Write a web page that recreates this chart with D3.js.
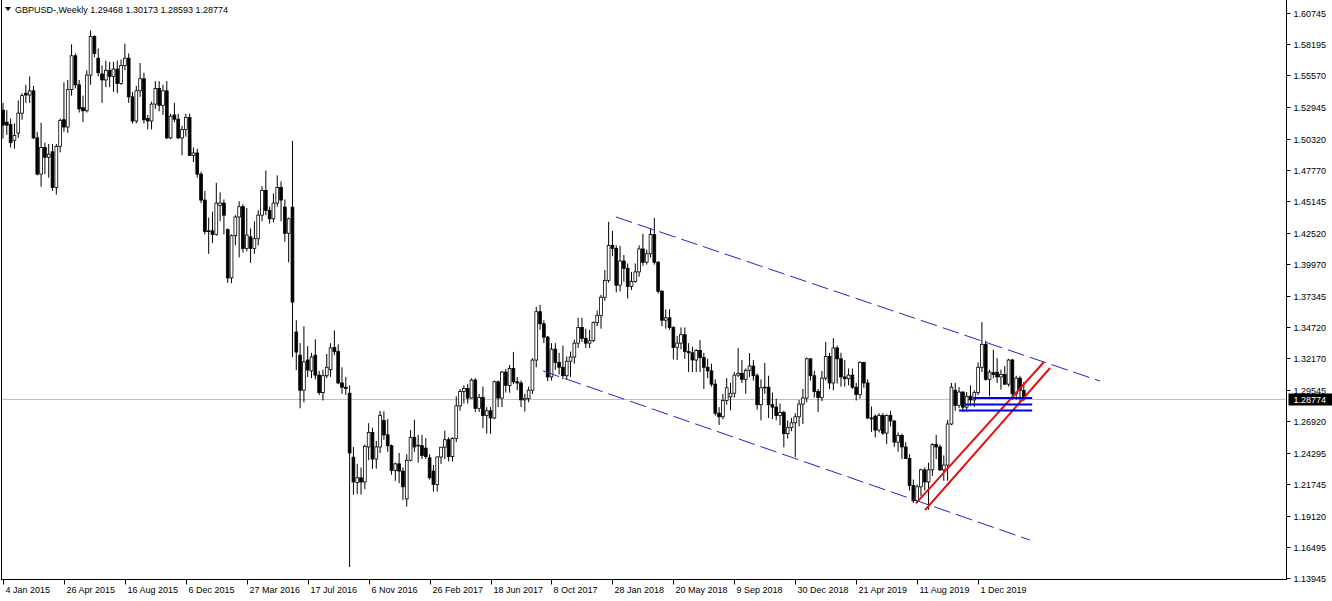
<!DOCTYPE html>
<html><head><meta charset="utf-8">
<script src="https://cdn.jsdelivr.net/npm/d3@7/dist/d3.min.js"></script>
<style>
body{margin:0;background:#fff}
svg{display:block}
text{font-family:"Liberation Sans",Arial,sans-serif;font-size:9px;fill:#000}
</style>
</head><body>
<svg id="chart" width="1332" height="601"></svg>
<script>
// ---- weekly OHLC, week of 4 Jan 2015 onward: [open, high, low, close] ----
const weeks2015 = [
[1.5270,1.5330,1.5035,1.5146],[1.5170,1.5270,1.5065,1.5146],[1.5150,1.5200,1.4960,1.5000],[1.5020,1.5160,1.4950,1.5060],
[1.5080,1.5350,1.5040,1.5245],[1.5245,1.5410,1.5190,1.5390],[1.5410,1.5480,1.5330,1.5395],[1.5395,1.5550,1.5330,1.5430],
[1.5430,1.5470,1.5030,1.5040],[1.5040,1.5090,1.4730,1.4740],[1.4740,1.5165,1.4635,1.4960],[1.4960,1.5000,1.4740,1.4880],
[1.4880,1.4990,1.4710,1.4905],[1.4925,1.4990,1.4600,1.4630],[1.4630,1.4990,1.4570,1.4970],[1.4970,1.5200,1.4920,1.5185],
[1.5190,1.5500,1.5090,1.5130],[1.5130,1.5520,1.5080,1.5440],[1.5440,1.5815,1.5390,1.5720],[1.5720,1.5740,1.5450,1.5480],
[1.5480,1.5520,1.5250,1.5280],[1.5290,1.5390,1.5170,1.5265],[1.5265,1.5600,1.5250,1.5560],[1.5560,1.5930,1.5480,1.5880],
[1.5880,1.5890,1.5710,1.5740],[1.5700,1.5780,1.5550,1.5580],[1.5570,1.5640,1.5330,1.5520],[1.5520,1.5680,1.5460,1.5600],
[1.5600,1.5670,1.5460,1.5550],[1.5550,1.5670,1.5420,1.5610],[1.5610,1.5680,1.5410,1.5490],[1.5490,1.5690,1.5480,1.5640],
[1.5640,1.5820,1.5600,1.5700],[1.5700,1.5740,1.5330,1.5380],[1.5380,1.5420,1.5160,1.5180],[1.5180,1.5470,1.5160,1.5430],
[1.5430,1.5660,1.5380,1.5530],[1.5530,1.5580,1.5160,1.5190],[1.5200,1.5230,1.5110,1.5180],[1.5180,1.5340,1.5110,1.5320],
[1.5320,1.5510,1.5280,1.5450],[1.5450,1.5510,1.5260,1.5310],[1.5310,1.5480,1.5230,1.5430],[1.5430,1.5510,1.5030,1.5040],
[1.5040,1.5240,1.5030,1.5220],[1.5230,1.5330,1.5170,1.5195],[1.5195,1.5240,1.5030,1.5040],[1.5040,1.5140,1.4895,1.5110],
[1.5110,1.5240,1.5050,1.5210],[1.5210,1.5240,1.4890,1.4895],[1.4895,1.4960,1.4840,1.4915],[1.4915,1.4950,1.4710,1.4740]
];
const weeks2016 = [
[1.4740,1.4760,1.4500,1.4525],[1.4525,1.4600,1.4240,1.4265],[1.4265,1.4380,1.4080,1.4270],[1.4270,1.4430,1.4170,1.4240],
[1.4240,1.4668,1.4230,1.4500],[1.4480,1.4590,1.4350,1.4500],[1.4500,1.4530,1.4240,1.4400],[1.4280,1.4290,1.3840,1.3880],
[1.3880,1.4240,1.3836,1.4230],[1.4230,1.4400,1.4150,1.4385],[1.4385,1.4515,1.4050,1.4470],[1.4470,1.4490,1.4090,1.4125],
[1.4125,1.4460,1.4100,1.4235],[1.4220,1.4290,1.4005,1.4125],[1.4125,1.4350,1.4080,1.4205],[1.4205,1.4440,1.4150,1.4400],
[1.4400,1.4640,1.4350,1.4605],[1.4605,1.4770,1.4400,1.4440],[1.4440,1.4470,1.4330,1.4370],[1.4370,1.4580,1.4340,1.4500],
[1.4500,1.4730,1.4470,1.4630],[1.4630,1.4680,1.4350,1.4525],[1.4467,1.4530,1.4180,1.4250],[1.4250,1.4380,1.4010,1.4370],
[1.4466,1.5014,1.3224,1.3680],[1.3432,1.3530,1.3117,1.3266],[1.3240,1.3340,1.2800,1.2950],[1.2950,1.3480,1.2850,1.3185],
[1.3200,1.3316,1.3060,1.3117],[1.3110,1.3260,1.3050,1.3225],[1.3240,1.3372,1.3040,1.3075],[1.3075,1.3110,1.2910,1.2930],
[1.2930,1.3120,1.2865,1.3070],[1.3070,1.3250,1.3050,1.3140],[1.3120,1.3340,1.3060,1.3300],[1.3304,1.3445,1.3240,1.3270],
[1.3270,1.3330,1.3000,1.3010],[1.3010,1.3140,1.2920,1.2975],[1.2975,1.3060,1.2910,1.2965],[1.2925,1.2990,1.1485,1.2430],
[1.2395,1.2480,1.2085,1.2190],[1.2185,1.2340,1.2090,1.2225],[1.2225,1.2310,1.2085,1.2190],[1.2190,1.2500,1.2130,1.2485],
[1.2480,1.2677,1.2370,1.2600],[1.2600,1.2640,1.2300,1.2380],[1.2380,1.2530,1.2300,1.2480],[1.2480,1.2780,1.2430,1.2740],
[1.2700,1.2775,1.2540,1.2580],[1.2580,1.2710,1.2440,1.2490],[1.2490,1.2500,1.2250,1.2285],[1.2285,1.2350,1.2200,1.2340]
];
const weeks2017 = [
[1.2340,1.2430,1.2180,1.2280],[1.2280,1.2310,1.2040,1.2150],[1.2050,1.2420,1.1986,1.2370],[1.2370,1.2620,1.2360,1.2560],
[1.2560,1.2706,1.2440,1.2480],[1.2495,1.2580,1.2350,1.2490],[1.2490,1.2580,1.2380,1.2410],[1.2470,1.2553,1.2380,1.2400],
[1.2390,1.2420,1.2210,1.2225],[1.2280,1.2330,1.2110,1.2170],[1.2170,1.2400,1.2110,1.2397],[1.2397,1.2480,1.2340,1.2478],
[1.2478,1.2615,1.2380,1.2540],[1.2540,1.2560,1.2360,1.2400],[1.2400,1.2560,1.2360,1.2550],[1.2550,1.2900,1.2520,1.2820],
[1.2820,1.2960,1.2780,1.2940],[1.2940,1.2990,1.2840,1.2965],[1.2965,1.3000,1.2840,1.2885],[1.2885,1.3047,1.2880,1.3034],
[1.3034,1.3050,1.2770,1.2800],[1.2800,1.2920,1.2770,1.2890],[1.2890,1.2980,1.2635,1.2740],[1.2740,1.2810,1.2590,1.2780],
[1.2780,1.2810,1.2589,1.2720],[1.2720,1.3030,1.2710,1.3020],[1.3020,1.3030,1.2810,1.2885],[1.2885,1.3110,1.2810,1.3100],
[1.3100,1.3125,1.2930,1.2990],[1.2990,1.3160,1.2930,1.3130],[1.3130,1.3267,1.3000,1.3020],[1.3020,1.3060,1.2950,1.3010],
[1.3010,1.3030,1.2810,1.2870],[1.2870,1.2920,1.2774,1.2880],[1.2880,1.2980,1.2850,1.2950],[1.2950,1.3215,1.2920,1.3200],
[1.3200,1.3640,1.3140,1.3600],[1.3600,1.3657,1.3450,1.3500],[1.3500,1.3530,1.3340,1.3390],[1.3390,1.3400,1.3025,1.3060],
[1.3060,1.3340,1.3030,1.3290],[1.3290,1.3340,1.3120,1.3180],[1.3180,1.3260,1.3080,1.3140],[1.3140,1.3320,1.3040,1.3070],
[1.3070,1.3230,1.3040,1.3190],[1.3190,1.3270,1.3060,1.3225],[1.3225,1.3370,1.3170,1.3340],[1.3340,1.3550,1.3300,1.3470],
[1.3470,1.3550,1.3350,1.3380],[1.3380,1.3460,1.3300,1.3340],[1.3340,1.3450,1.3300,1.3360],[1.3360,1.3520,1.3350,1.3510]
];
const weeks2018 = [
[1.3510,1.3610,1.3480,1.3570],[1.3570,1.3740,1.3460,1.3720],[1.3720,1.3945,1.3690,1.3860],[1.3860,1.4345,1.3840,1.4150],
[1.4150,1.4270,1.4060,1.4125],[1.4125,1.4150,1.3760,1.3820],[1.3820,1.4145,1.3770,1.4020],[1.4020,1.4070,1.3850,1.3960],
[1.3960,1.4000,1.3710,1.3810],[1.3810,1.3930,1.3780,1.3850],[1.3850,1.4000,1.3840,1.3930],[1.3930,1.4150,1.3890,1.4120],
[1.4120,1.4245,1.3980,1.4010],[1.4010,1.4115,1.3990,1.4080],[1.4080,1.4290,1.4050,1.4240],[1.4240,1.4377,1.3990,1.4010],
[1.4010,1.4020,1.3750,1.3770],[1.3770,1.3780,1.3480,1.3530],[1.3530,1.3620,1.3460,1.3550],[1.3550,1.3620,1.3450,1.3470],
[1.3470,1.3480,1.3205,1.3305],[1.3305,1.3400,1.3200,1.3340],[1.3340,1.3470,1.3290,1.3410],[1.3410,1.3470,1.3210,1.3270],
[1.3270,1.3340,1.3100,1.3260],[1.3260,1.3310,1.3100,1.3200],[1.3200,1.3290,1.3100,1.3280],[1.3280,1.3365,1.3100,1.3220],
[1.3220,1.3260,1.2960,1.3140],[1.3140,1.3210,1.3050,1.3110],[1.3110,1.3170,1.2980,1.3000],[1.3000,1.3040,1.2740,1.2760],
[1.2760,1.2810,1.2662,1.2730],[1.2730,1.2920,1.2710,1.2865],[1.2865,1.3050,1.2830,1.2970],[1.2895,1.3010,1.2785,1.2925],
[1.2925,1.3100,1.2890,1.3075],[1.3075,1.3298,1.3060,1.3090],[1.3090,1.3200,1.3010,1.3040],[1.3040,1.3130,1.2920,1.3115],
[1.3115,1.3258,1.3060,1.3150],[1.3150,1.3200,1.3030,1.3070],[1.3070,1.3090,1.2790,1.2830],[1.2830,1.3040,1.2700,1.2970],
[1.2970,1.3175,1.2920,1.2975],[1.2975,1.3070,1.2720,1.2830],[1.2830,1.2930,1.2710,1.2810],[1.2810,1.2880,1.2700,1.2740],
[1.2740,1.2840,1.2660,1.2765],[1.2765,1.2780,1.2477,1.2590],[1.2590,1.2700,1.2550,1.2640],[1.2640,1.2720,1.2610,1.2680]
];
const weeks2019 = [
[1.2680,1.2760,1.2396,1.2730],[1.2730,1.2870,1.2650,1.2835],[1.2835,1.2960,1.2670,1.2885],[1.2885,1.3220,1.2850,1.3210],
[1.3210,1.3215,1.3030,1.3070],[1.3070,1.3110,1.2890,1.2940],[1.2940,1.2960,1.2770,1.2890],[1.2890,1.3110,1.2860,1.3050],
[1.3050,1.3350,1.3030,1.3230],[1.3230,1.3260,1.2960,1.3010],[1.3010,1.3381,1.2950,1.3300],[1.3300,1.3320,1.3005,1.3210],
[1.3210,1.3260,1.2980,1.3060],[1.3060,1.3200,1.2980,1.3045],[1.3045,1.3130,1.2990,1.3075],[1.3075,1.3130,1.2960,1.2975],
[1.2975,1.3010,1.2865,1.2915],[1.2915,1.3190,1.2880,1.3180],[1.3180,1.3185,1.2970,1.3010],[1.3010,1.3040,1.2710,1.2720],
[1.2720,1.2815,1.2605,1.2715],[1.2735,1.2750,1.2560,1.2620],[1.2620,1.2760,1.2600,1.2740],[1.2740,1.2760,1.2580,1.2595],
[1.2595,1.2750,1.2505,1.2740],[1.2740,1.2780,1.2650,1.2695],[1.2695,1.2700,1.2480,1.2520],[1.2520,1.2600,1.2440,1.2575],
[1.2575,1.2590,1.2380,1.2480],[1.2480,1.2520,1.2380,1.2385],[1.2385,1.2420,1.2120,1.2160],[1.2160,1.2210,1.2015,1.2035],
[1.2035,1.2170,1.2015,1.2150],[1.2150,1.2300,1.2070,1.2290],[1.2290,1.2310,1.2120,1.2190],[1.2190,1.2350,1.1959,1.2290],
[1.2290,1.2510,1.2240,1.2500],[1.2500,1.2580,1.2380,1.2480],[1.2480,1.2500,1.2280,1.2290],[1.2290,1.2410,1.2200,1.2330],
[1.2330,1.2705,1.2200,1.2670],[1.2670,1.3010,1.2660,1.2975],[1.2950,1.3010,1.2780,1.2825],[1.2825,1.2975,1.2800,1.2935],
[1.2935,1.2940,1.2770,1.2810],[1.2810,1.2935,1.2770,1.2900],[1.2900,1.2990,1.2820,1.2870],[1.2870,1.2950,1.2810,1.2930],
[1.2930,1.3180,1.2910,1.3140],[1.3140,1.3514,1.3100,1.3330],[1.3330,1.3360,1.3030,1.3040],[1.3040,1.3120,1.2900,1.3100]
];
const weeks2020 = [
[1.3095,1.3285,1.3050,1.3080],[1.3100,1.3215,1.3010,1.3060],[1.3060,1.3120,1.2955,1.3080],[1.3080,1.3150,1.2995,1.3000],
[1.3000,1.3210,1.2980,1.3200],[1.3200,1.3210,1.2870,1.2920],[1.2920,1.3070,1.2870,1.3050],[1.3050,1.3070,1.2850,1.2950],
[1.29468,1.30173,1.28593,1.28774]
];

// axis labels
const priceTicks = ["1.60745","1.58195","1.55570","1.52945","1.50320","1.47770","1.45145","1.42520","1.39970",
  "1.37345","1.34720","1.32170","1.29545","1.26920","1.24295","1.21745","1.19120","1.16495","1.13945"];
const dateLabels = ["4 Jan 2015","26 Apr 2015","16 Aug 2015","6 Dec 2015","27 Mar 2016","17 Jul 2016","6 Nov 2016",
  "26 Feb 2017","18 Jun 2017","8 Oct 2017","28 Jan 2018","20 May 2018","9 Sep 2018","30 Dec 2018","21 Apr 2019",
  "11 Aug 2019","1 Dec 2019"];
const dateLabelBars = [0,16,32,48,64,80,96,112,128,144,160,176,192,208,224,240,256];
const chartTitle = "GBPUSD-,Weekly";
const lastBar = [1.29468,1.30173,1.28593,1.28774];

// drawn objects (bar index, price)
const channelUpper = [[160.9,1.4385],[288.0,1.3026]];
const channelLower = [[141.8,1.3109],[269.6,1.1709]];
const redChannel = [ [[239.7,1.2012],[273.3,1.3184]], [[242.1,1.1958],[274.9,1.3134]] ];
const blueLevels = [ [254.7,270.2,1.28856], [252.6,270.2,1.28317], [251.0,270.2,1.27820] ];

const ohlc = [].concat(weeks2015,weeks2016,weeks2017,weeks2018,weeks2019,weeks2020)
  .map((d,i)=>({i,o:d[0],h:d[1],l:d[2],c:d[3]}));

const W=1332,H=601;
const plotRight=1286.5, plotBottom=579.5;
const x = d3.scaleLinear().domain([0,268]).range([3,1023.8]);
const y = d3.scaleLinear().domain([1.13945,1.60745]).range([578,13]);

const svg = d3.select("#chart");
svg.append("rect").attr("width",W).attr("height",H).attr("fill","#fff");

const plot = svg.append("g");
plot.append("clipPath").attr("id","clip").append("rect").attr("x",1).attr("y",0).attr("width",plotRight-1).attr("height",plotBottom);

// last price line
plot.append("line").attr("x1",1).attr("x2",plotRight).attr("y1",Math.round(y(lastBar[3]))+0.5).attr("y2",Math.round(y(lastBar[3]))+0.5)
  .attr("stroke","#c0c0c0").attr("stroke-width",1);

const g = plot.append("g").attr("clip-path","url(#clip)");

// candles
const bw = 2.8;
const cg = g.append("g");
cg.selectAll("line.wick").data(ohlc).join("line")
  .attr("x1",d=>x(d.i)).attr("x2",d=>x(d.i))
  .attr("y1",d=>y(d.h)).attr("y2",d=>y(d.l))
  .attr("stroke","#000").attr("stroke-width",1);
cg.selectAll("rect.body").data(ohlc).join("rect")
  .attr("x",d=>x(d.i)-bw/2)
  .attr("y",d=>y(Math.max(d.o,d.c)))
  .attr("width",bw)
  .attr("height",d=>Math.max(0.8,Math.abs(y(d.o)-y(d.c))))
  .attr("fill",d=>d.c>=d.o?"#fff":"#000")
  .attr("stroke","#000").attr("stroke-width",0.8);

// channel dashed lines
[channelUpper,channelLower].forEach(pts=>{
  g.append("line").attr("x1",x(pts[0][0])).attr("y1",y(pts[0][1])).attr("x2",x(pts[1][0])).attr("y2",y(pts[1][1]))
   .attr("stroke","#2424c8").attr("stroke-width",1).attr("stroke-dasharray","17,6");
});
// red lines
redChannel.forEach(pts=>{
  g.append("line").attr("x1",x(pts[0][0])).attr("y1",y(pts[0][1])).attr("x2",x(pts[1][0])).attr("y2",y(pts[1][1]))
   .attr("stroke","#e41010").attr("stroke-width",2);
});
// blue horizontal levels
blueLevels.forEach(l=>{
  g.append("line").attr("x1",x(l[0])).attr("x2",x(l[1])).attr("y1",y(l[2])).attr("y2",y(l[2]))
   .attr("stroke","#0000e0").attr("stroke-width",2);
});

// frame
svg.append("line").attr("x1",1.5).attr("x2",1.5).attr("y1",0).attr("y2",plotBottom).attr("stroke","#000");
svg.append("line").attr("x1",plotRight).attr("x2",plotRight).attr("y1",0).attr("y2",plotBottom).attr("stroke","#000");
svg.append("line").attr("x1",1).attr("x2",plotRight+0.5).attr("y1",plotBottom).attr("y2",plotBottom).attr("stroke","#000");

// price axis
const pa = svg.append("g");
priceTicks.forEach(t=>{
  const yy = Math.round(y(+t))+0.5;
  pa.append("line").attr("x1",plotRight).attr("x2",plotRight+4).attr("y1",yy).attr("y2",yy).attr("stroke","#000");
  pa.append("text").attr("x",plotRight+7).attr("y",yy+3.5).text(t);
});
// last price tag
const ly = Math.round(y(lastBar[3]))+0.5;
pa.append("rect").attr("x",plotRight+2).attr("y",ly-6).attr("width",W-plotRight-2).attr("height",12).attr("fill","#000");
pa.append("text").attr("x",plotRight+7).attr("y",ly+3.5).attr("fill","#fff").style("fill","#fff").text(lastBar[3].toFixed(5));

// date axis
const da = svg.append("g");
dateLabels.forEach((t,k)=>{
  const xx = Math.round(x(dateLabelBars[k]))+0.5;
  da.append("line").attr("x1",xx).attr("x2",xx).attr("y1",plotBottom).attr("y2",plotBottom+5).attr("stroke","#000");
  da.append("text").attr("x",xx+2).attr("y",593).text(t);
});

// title
svg.append("path").attr("d","M5,7 L11,7 L8,11 Z").attr("fill","#000");
svg.append("text").attr("x",15).attr("y",13).text(chartTitle+"  "+lastBar.map(v=>v.toFixed(5)).join(" "));
</script>
</body></html>
